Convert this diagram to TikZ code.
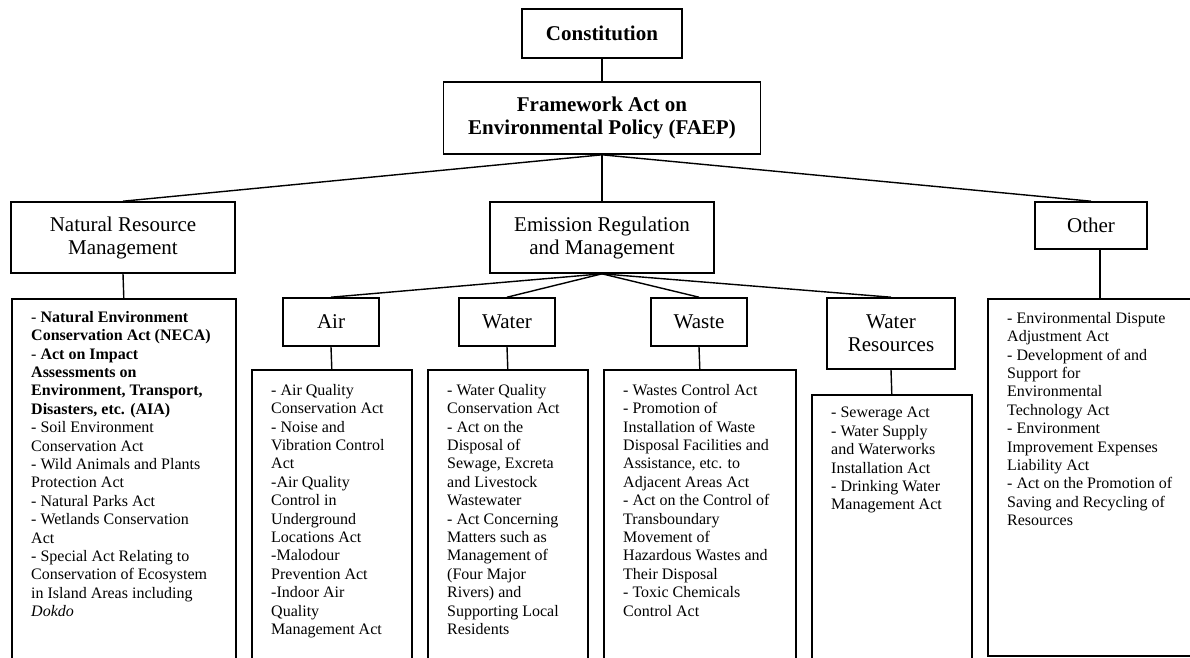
\documentclass[tikz,border=0pt]{standalone}
\usepackage{fontspec}
\setmainfont{Liberation Serif}
\usetikzlibrary{positioning}

\begin{document}
\begin{tikzpicture}[x=1pt,y=-1pt,
    headbox/.style={draw,line width=1.6pt,inner sep=0pt,align=center,font=\fontsize{21}{23}\selectfont},
    lawbox/.style={headbox,font=\fontsize{21}{23}\selectfont\bfseries},
    listframe/.style={draw,line width=1.6pt,inner sep=0pt,anchor=north west},
    listtext/.style={anchor=north west,inner sep=0pt,align=left,font=\fontsize{16}{18.4}\selectfont},
    link/.style={line width=1.4pt}]
  \useasboundingbox (0,0) rectangle (1190,657);

  \node[lawbox,minimum width=160,minimum height=49] (const) at (602,33.5) {Constitution};
  \node[lawbox,minimum width=317,minimum height=72] (faep) at (602,118) {Framework Act on\\Environmental Policy (FAEP)};

  \node[headbox,minimum width=224,minimum height=71] (nrm) at (123,237.5) {Natural Resource\\Management};
  \node[headbox,minimum width=224,minimum height=71] (emis) at (602,237.5) {Emission Regulation\\and Management};
  \node[headbox,minimum width=112,minimum height=47] (other) at (1091,225.5) {Other};

  \node[headbox,minimum width=96,minimum height=48] (air) at (331,322) {Air};
  \node[headbox,minimum width=96,minimum height=48] (water) at (507,322) {Water};
  \node[headbox,minimum width=96,minimum height=48] (waste) at (699,322) {Waste};
  \node[headbox,minimum width=128,minimum height=71] (wres) at (891,333.5) {Water\\Resources};

  \node[listframe,minimum width=224,minimum height=382] (nrmlist) at (11,298) {};
  \node[listframe,minimum width=160,minimum height=311] (airlist) at (251,369) {};
  \node[listframe,minimum width=160,minimum height=311] (waterlist) at (427,369) {};
  \node[listframe,minimum width=192,minimum height=311] (wastelist) at (603,369) {};
  \node[listframe,minimum width=160,minimum height=286] (wreslist) at (811,394) {};
  \node[listframe,minimum width=224,minimum height=357] (otherlist) at (987,298) {};

  \node[listtext] (nrmtext) at ([shift={(20,13)}]nrmlist.north west)
    {- \textbf{Natural Environment}\\\textbf{Conservation Act (NECA)}\\- \textbf{Act on Impact}\\\textbf{Assessments on}\\\textbf{Environment, Transport,}\\\textbf{Disasters, etc. (AIA)}\\- Soil Environment\\Conservation Act\\- Wild Animals and Plants\\Protection Act\\- Natural Parks Act\\- Wetlands Conservation\\Act\\- Special Act Relating to\\Conservation of Ecosystem\\in Island Areas including\\\textit{Dokdo}};
  \node[listtext] (airtext) at ([shift={(20,15)}]airlist.north west)
    {- Air Quality\\Conservation Act\\- Noise and\\Vibration Control\\Act\\-Air Quality\\Control in\\Underground\\Locations Act\\-Malodour\\Prevention Act\\-Indoor Air\\Quality\\Management Act};
  \node[listtext] (watertext) at ([shift={(20,15)}]waterlist.north west)
    {- Water Quality\\Conservation Act\\- Act on the\\Disposal of\\Sewage, Excreta\\and Livestock\\Wastewater\\- Act Concerning\\Matters such as\\Management of\\(Four Major\\Rivers) and\\Supporting Local\\Residents};
  \node[listtext] (wastetext) at ([shift={(20,15)}]wastelist.north west)
    {- Wastes Control Act\\- Promotion of\\Installation of Waste\\Disposal Facilities and\\Assistance, etc. to\\Adjacent Areas Act\\- Act on the Control of\\Transboundary\\Movement of\\Hazardous Wastes and\\Their Disposal\\- Toxic Chemicals\\Control Act};
  \node[listtext] (wrestext) at ([shift={(20,13)}]wreslist.north west)
    {- Sewerage Act\\- Water Supply\\and Waterworks\\Installation Act\\- Drinking Water\\Management Act};
  \node[listtext] (othertext) at ([shift={(20,14)}]otherlist.north west)
    {- Environmental Dispute\\Adjustment Act\\- Development of and\\Support for\\Environmental\\Technology Act\\- Environment\\Improvement Expenses\\Liability Act\\- Act on the Promotion of\\Saving and Recycling of\\Resources};

  \draw[link] (const.south) -- (faep.north);
  \foreach \branch in {nrm,emis,other}
    \draw[link] (faep.south) -- (\branch.north);
  \foreach \sub in {air,water,waste,wres}
    \draw[link] (emis.south) -- (\sub.north);
  \foreach \sub in {nrm,air,water,waste,wres}
    \draw[link] (\sub.south) -- (\sub list.north);
  \draw[link] (other.south -| otherlist.north) -- (otherlist.north);
\end{tikzpicture}
\end{document}
